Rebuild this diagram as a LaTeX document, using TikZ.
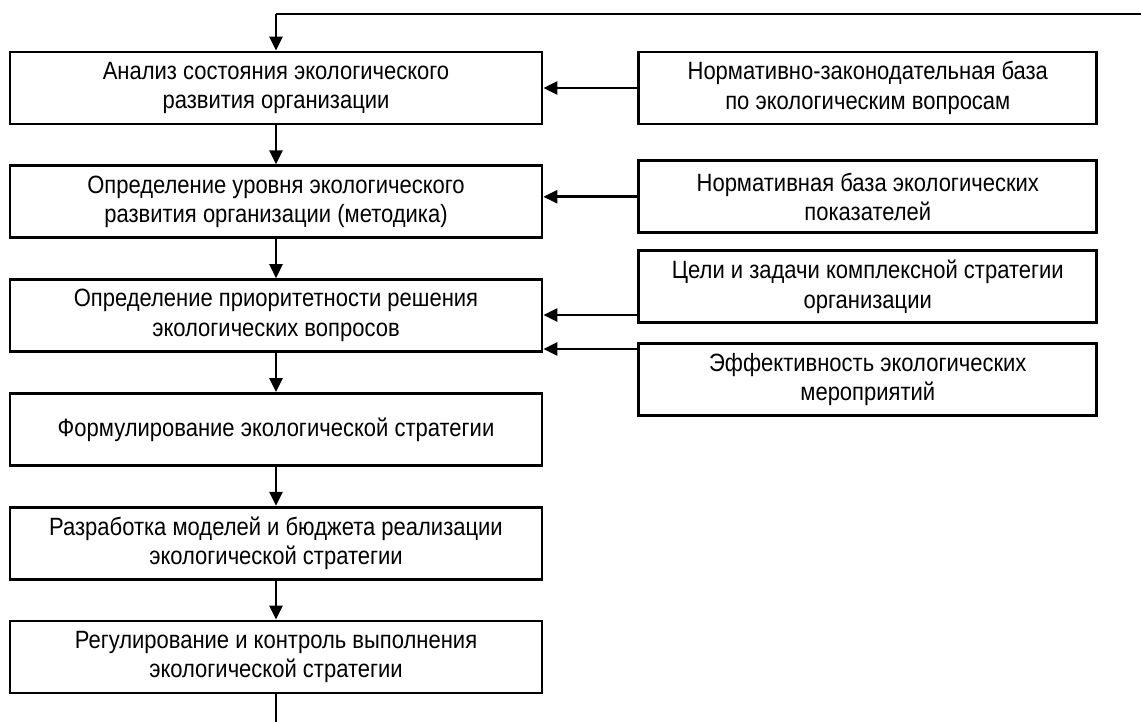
\documentclass[tikz,border=0pt]{standalone}
\usepackage{fontspec}
\setmainfont{Liberation Sans}[FakeStretch=0.88]
\usetikzlibrary{positioning,arrows.meta}

\begin{document}
\begin{tikzpicture}[x=1pt, y=-1pt, ->, >={Triangle[length=14pt,width=13pt]}, line width=2.6pt, node distance = 39pt,
    stage/.style={rectangle, draw=black, line width=2.8pt, minimum width=532pt, minimum height=72pt, align=center, inner sep=0pt, font=\fontsize{25}{29.5}\selectfont},
    base/.style={stage, minimum width=458pt}]
    \useasboundingbox (0,0) rectangle (1141,722);

    \node[stage] (1) at (276,88) {Анализ состояния экологического\\развития организации};
    \node[stage] (2) [below=of 1] {Определение уровня экологического\\развития организации (методика)};
    \node[stage] (3) [below=of 2] {Определение приоритетности решения\\экологических вопросов};
    \node[stage] (4) [below=of 3] {Формулирование экологической стратегии};
    \node[stage] (5) [below=of 4] {Разработка моделей и бюджета реализации\\экологической стратегии};
    \node[stage] (6) [below=of 5] {Регулирование и контроль выполнения\\экологической стратегии};

    \node[base] (r1) [right=94pt of 1] {Нормативно-законодательная база\\по экологическим вопросам};
    \node[base] (r2) [below=34pt of r1] {Нормативная база экологических\\показателей};
    \node[base] (r3) [below=15pt of r2] {Цели и задачи комплексной стратегии\\организации};
    \node[base] (r4) [below=18pt of r3] {Эффективность экологических\\мероприятий};

    \coordinate (top) at (1141,14);
    \coordinate (bottom) at (276,722);

    \path (1) edge (2)
    (2) edge (3)
    (3) edge (4)
    (4) edge (5)
    (5) edge (6)
    (r1) edge (1)
    (r2.west) edge (r2.west -| 2.east)
    ([yshift=9pt]r3.south west) edge ([yshift=9pt]r3.south west -| 3.east)
    ([yshift=-7pt]r4.north west) edge ([yshift=-7pt]r4.north west -| 3.east);

    \draw[-, line width=1.6pt] (top) -- (top -| 1.north);
    \draw (top -| 1.north) -- (1);
    \draw[-, line width=1.4pt] (6) -- (bottom);
\end{tikzpicture}
\end{document}
